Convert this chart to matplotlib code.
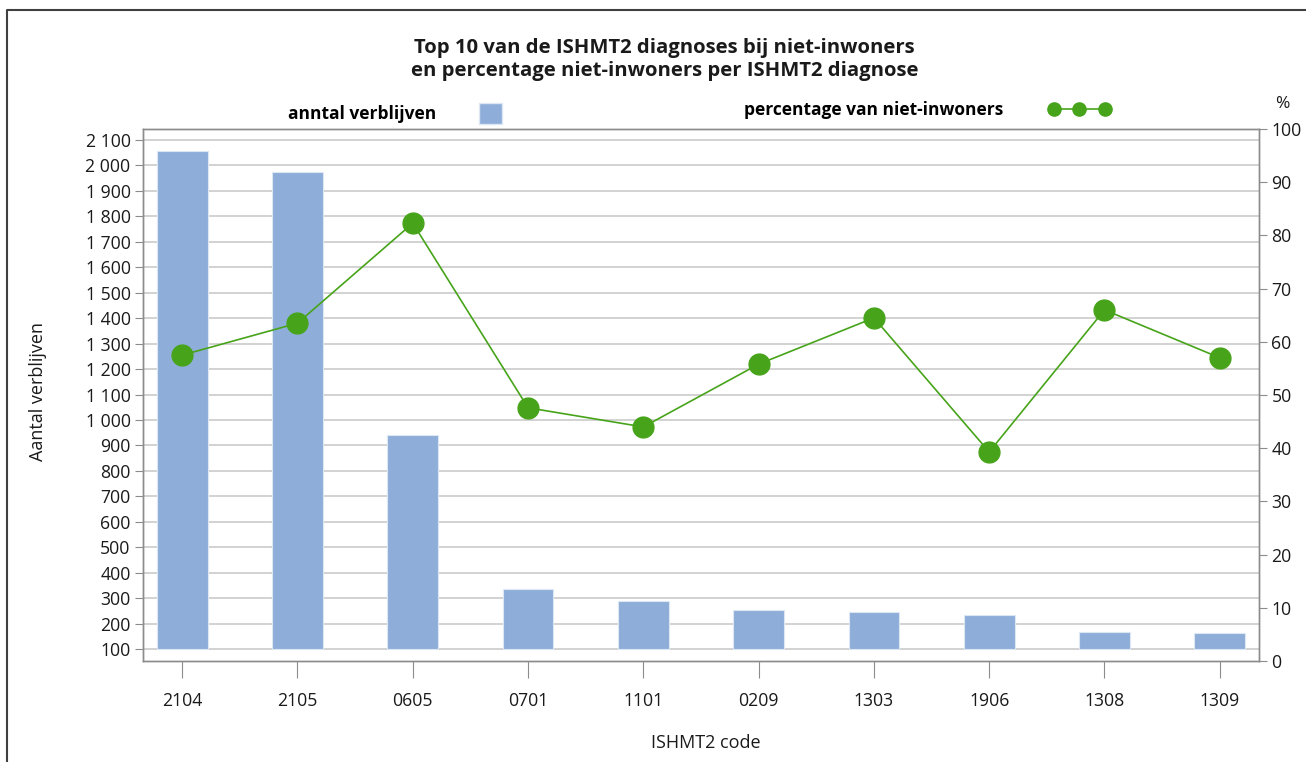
import numpy as np
import matplotlib.pyplot as plt
from matplotlib.lines import Line2D
from matplotlib.patches import Patch
from matplotlib.ticker import FuncFormatter

# Top 10 ISHMT2 codes among non-residents
codes = ['2104', '2105', '0605', '0701', '1101', '0209', '1303', '1906', '1308', '1309']
verblijven = [2055, 1975, 940, 335, 290, 255, 245, 235, 168, 163]
pct_niet_inwoners = [57.5, 63.5, 82.3, 47.6, 44.0, 55.8, 64.5, 39.3, 66.0, 57.0]

left_ticks = list(range(100, 2101, 100))
right_ticks = list(range(0, 101, 10))

plt.rcParams['font.family'] = ['Open Sans', 'DejaVu Sans']

bar_color = '#8eaed9'
line_color = '#47a41a'
spine_color = '#8c8c8c'
grid_color = '#cfcfcf'
text_color = '#1a1a1a'
tick_size = 12.7

fig = plt.figure(figsize=(13.06, 7.62), dpi=100)
ax = fig.add_axes([0.1095, 0.1325, 0.8545, 0.6982])

x = np.arange(len(codes))
base = 100
ax.bar(x, np.array(verblijven) - base, bottom=base, width=0.44,
       color=bar_color, edgecolor='#dde6f3', linewidth=0.8, zorder=2)

ax.set_xlim(-0.34, len(codes) - 0.66)
ax.set_ylim(53, 2143)
ax.set_yticks(left_ticks)
ax.yaxis.set_major_formatter(FuncFormatter(lambda v, p: f'{int(v):,}'.replace(',', ' ')))
ax.set_xticks(x)
ax.set_xticklabels(codes)
ax.grid(axis='y', color=grid_color, linewidth=1.3, zorder=0)
ax.set_axisbelow(True)

ax.tick_params(axis='y', direction='out', length=6, color=spine_color, pad=3,
               labelsize=tick_size, labelcolor=text_color)
ax.tick_params(axis='x', direction='out', length=12, color=spine_color, pad=10.5,
               labelsize=tick_size, labelcolor=text_color)

ax.set_ylabel('Aantal verblijven', fontsize=13, color=text_color, va='center')
ax.yaxis.set_label_coords(-0.094, 0.507)
ax.set_xlabel('ISHMT2 code', fontsize=13, color=text_color, va='center')
ax.xaxis.set_label_coords(0.5045, -0.154)

# percentage on secondary axis
ax2 = ax.twinx()
ax2.plot(x, pct_niet_inwoners, color=line_color, linewidth=1.2,
         marker='o', markersize=15, markerfacecolor=line_color,
         markeredgecolor=line_color, zorder=3)
ax2.set_ylim(0, 100)
ax2.set_yticks(right_ticks)
ax2.tick_params(axis='y', direction='out', length=6, color=spine_color, pad=3,
                labelsize=tick_size, labelcolor=text_color)

for a in (ax, ax2):
    for sp in a.spines.values():
        sp.set_color(spine_color)
        sp.set_linewidth(1.0)

# title
fig.text(0.509, 0.922,
         'Top 10 van de ISHMT2 diagnoses bij niet-inwoners\n'
         'en percentage niet-inwoners per ISHMT2 diagnose',
         ha='center', va='center', fontsize=14.6, fontweight='bold',
         color=text_color, linespacing=1.25)

# legends above the plot
leg_font = dict(weight='bold', size=12.5)
fig.legend(handles=[Patch(facecolor=bar_color, edgecolor='#dde6f3')],
           labels=['anntal verblijven'], loc='center',
           bbox_to_anchor=(0.3025, 0.851), frameon=False, markerfirst=False,
           handlelength=1.32, handleheight=1.5, handletextpad=2.42, prop=leg_font)
fig.legend(handles=[Line2D([], [], color=line_color, linewidth=1.2, marker='o',
                           markersize=9.5)],
           labels=['percentage van niet-inwoners'], loc='center',
           bbox_to_anchor=(0.7098, 0.855), frameon=False, markerfirst=False,
           numpoints=3, handlelength=3.54, handletextpad=2.6, prop=leg_font)

fig.text(0.9816, 0.8635, '%', ha='center', va='center', fontsize=12.5,
         color=text_color)

# outer frame
fig.add_artist(Line2D([0.0054, 0.0054, 1.0], [0.0, 0.9869, 0.9869],
                      transform=fig.transFigure, color='#404040', linewidth=1.5))

fig.savefig('out.png', dpi=100)
